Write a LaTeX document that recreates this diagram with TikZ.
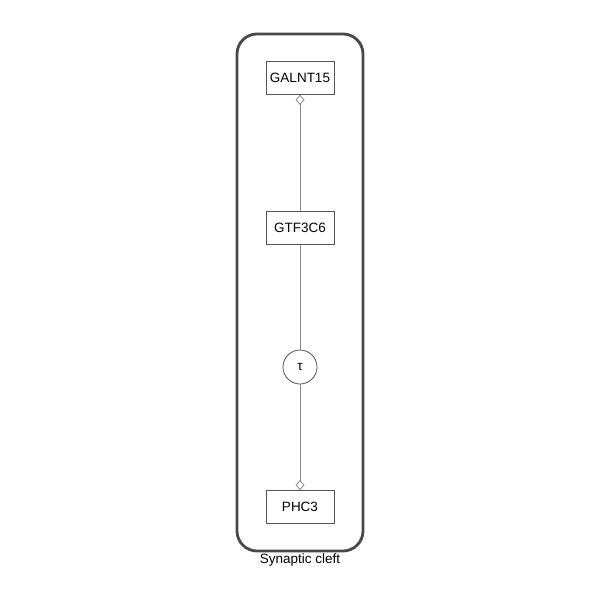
\documentclass[tikz,border=0pt]{standalone}
\usepackage{fontspec}
\setmainfont{Liberation Sans}
\usetikzlibrary{arrows.meta}
\definecolor{edgegray}{HTML}{8A8A8A}
\definecolor{boxgray}{HTML}{555555}
\tikzset{
  gene/.style={draw=boxgray, line width=0.8pt, fill=white, minimum width=68pt, minimum height=33pt, inner sep=0pt, font=\fontsize{13.5}{15}\selectfont},
  oper/.style={circle, draw=boxgray, line width=0.8pt, fill=white, minimum size=34pt, inner sep=0pt, font=\fontsize{13.5}{15}\selectfont},
  conn/.style={draw=edgegray, line width=1pt},
  dia/.style={-{Diamond[open, length=10pt, width=9pt, line width=0.8pt]}},
  comp/.style={draw=boxgray!85!black, line width=2.8pt, rounded corners=20pt}
}
\begin{document}
\begin{tikzpicture}[x=1pt, y=-1pt]
\useasboundingbox (0,0) rectangle (600,600);
\fill[white] (0,0) rectangle (600,600);
\draw[comp] (237,34) rectangle (363,551);
\node[font=\fontsize{13.5}{15}\selectfont] (lbl) at (300,560) {Synaptic cleft};
\node[gene] (g1) at (300,78) {GALNT15};
\node[gene] (g2) at (300,228) {GTF3C6};
\node[oper] (t) at (300,367) {τ};
\node[gene] (g3) at (300,507) {PHC3};
\draw[conn, dia] (g2) -- (g1);
\draw[conn] (g2) -- (t);
\draw[conn, dia] (t) -- (g3);
\end{tikzpicture}
\end{document}
